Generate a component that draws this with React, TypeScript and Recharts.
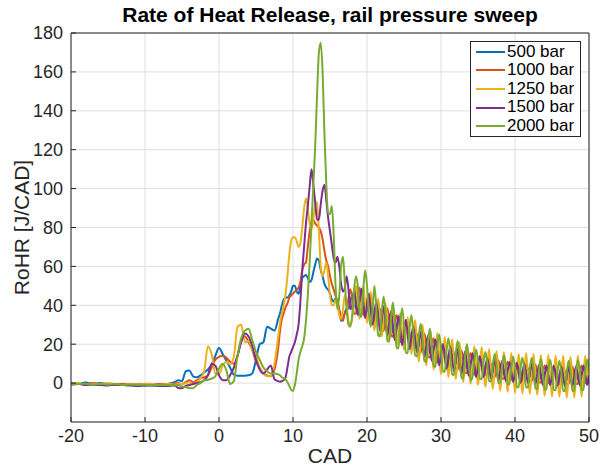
import React from "react";
import { LineChart, Line, XAxis, YAxis, CartesianGrid } from "recharts";

document.body.style.margin = "0";

const FONT = '"Liberation Sans", Arial, Helvetica, sans-serif';
const INK = "#262626";

// CAD sampling grid: 1 deg steps before injection, 0.5 deg around SOI, 0.25 deg from 8.25 on
const CAD = [
  ...Array.from({ length: 15 }, (_, i) => -20 + i),
  ...Array.from({ length: 28 }, (_, i) => -5.5 + i * 0.5),
  ...Array.from({ length: 168 }, (_, i) => 8.25 + i * 0.25),
];

const X_TICKS = [-20, -10, 0, 10, 20, 30, 40, 50];
const Y_TICKS = [0, 20, 40, 60, 80, 100, 120, 140, 160, 180];

// RoHR [J/CAD]
const RoHR_500 = [
  0, -0.5, 0.3, -0.3, 0, -0.5, -0.8, -0.6, -1, -0.7, -0.5, -1.2, -0.8, -0.5, 0.5,
  1.5, 1, 6, 6.5, 3.5, 3, 4, 5.5, 7, 9.5, 14, 18, 15, 11.5, 8, 4.3, 3.8, 3.8, 3.8, 4, 5, 12, 20, 21, 29, 28, 27, 33,
  36, 40, 43, 44, 44, 45, 47, 50, 50, 47, 46, 50, 54, 55, 55.6, 54, 52, 53, 57, 61,
  64, 63, 58, 55, 51, 49, 48, 46, 43, 42, 43.5, 42, 37, 32, 33, 36,
  38.5, 38.3, 42.5, 45, 42.5, 38.3, 38.5, 43.2, 45.5, 42.2, 37.3, 36.8, 40.2, 42, 38.2,
  32.8, 32, 35.7, 37.8, 34.2, 29.3, 28.8, 32.7, 35, 31.5, 26.3, 25.5, 29.2, 31.5, 28.2,
  23.3, 22.8, 26.7, 29, 25.7, 20.8, 20.9, 23.4, 24.8, 21.9, 18.1, 17.6, 20.4, 22, 19.4,
  15.6, 15.1, 17.9, 19.4, 16.7, 12.7, 12.1, 15, 16.8, 14.3, 10.6, 10.4, 13.4, 15.3, 12.9,
  9.2, 8.9, 11.8, 13.5, 11.2, 7.6, 7.4, 10.4, 12.4, 10.2, 6.7, 7, 9.6, 11, 9,
  6, 5.8, 8.3, 9.8, 7.8, 4.9, 4.8, 7.4, 9, 7.2, 4.3, 4.1, 6.8, 8.4, 6.6,
  3.6, 3.5, 6.2, 7.8, 5.9, 3, 3, 5.8, 7.5, 5.8, 2.9, 2.8, 5.4, 7, 5.2,
  2.3, 2.1, 4.8, 6.5, 4.8, 2, 2, 4.7, 6.3, 4.4, 1.5, 1.5, 4.3, 6, 4.3,
  1.5, 1.5, 4.3, 6, 4.4, 1.8, 1.9, 4.8, 6.5, 4.8, 2, 2,
];

const RoHR_1000 = [
  -0.3, -0.5, -0.5, 0, -0.5, -0.3, -0.8, -0.5, -0.5, -0.8, -0.5, -0.8, -0.5, -0.5, -0.3,
  0, -0.5, 0.5, 1.5, 0.5, 1.5, 2.5, 3, 4, 8, 12, 13.5, 14, 13, 11, 10, 14, 22, 24, 21, 17, 11, 8, 5, 4, 3.5, 7, 18,
  27, 33, 36, 39, 41, 44, 45, 46, 47, 48, 49, 52, 58, 61, 62, 70, 78, 83, 84, 82,
  81, 80, 78, 74, 68, 63, 60, 55, 51, 48, 45, 42, 38, 34, 32, 36,
  36, 43.7,
  48.3, 43.2, 35.6, 35.8, 44, 49, 43.7, 35.3, 34.8, 42.2, 46, 40.2, 31.3, 30.3, 37.5,
  41.5, 36, 27.3, 26.8, 34.2, 38.5, 33.2, 24.6, 23.8, 31, 35, 29.7, 21.3, 20.8, 28.2,
  32.5, 27.2, 18.8, 18.3, 25.2, 28.5, 23.7, 16.1, 15.6, 21.9, 25.5, 20.9, 13.6, 13.1, 19.4,
  23, 18.3, 10.9, 10.2, 16.4, 20.1, 15.7, 8.5, 8.1, 14.7, 18.5, 14.2, 7.1, 6.7, 13.2,
  16.9, 12.4, 5.4, 5.1, 11.7, 15.5, 11.3, 4.4, 4.2, 10.6, 13.8, 10.1, 4.3, 4, 9.4,
  12.5, 8.9, 3, 2.9, 8.4, 11.6, 8.1, 2.4, 2.3, 7.7, 11, 7.5, 1.8, 1.6, 7.1,
  10.4, 6.9, 1.1, 1, 6.6, 10, 6.6, 1, 0.9, 6.4, 9.6, 6.1, 0.4, 0.3, 5.7,
  9, 5.6, 0, 0, 5.6, 8.9, 5.4, -0.4, -0.5, 5.1, 8.5, 5.1, -0.5, -0.5, 5.1,
  8.5, 5.1, -0.4, -0.3, 5.5, 9, 5.6, 0, 0, 0,
];

const RoHR_1250 = [
  -0.5, 0, -0.8, -0.3, -0.5, 0, -0.5, -1, -0.5, -0.8, -0.3, -0.8, -1, -0.5, -0.8,
  -0.5, -0.5, 0, 0.5, -0.5, 0.5, 2.5, 6, 19, 15, 5, 4.5, 9, 11, 9.5, 13.5, 29, 30, 21, 21.5, 17, 13.5, 8, 5, 3.5, 3.5, 10, 24,
  31, 36, 40, 46, 55, 66, 73, 75, 75, 73, 70, 72, 80, 90, 95, 90, 82, 79, 84, 92,
  93, 78, 60, 55, 58, 62, 55, 45, 40, 40, 43, 40, 35, 33, 38, 45,
  40, 32, 30, 33, 42, 50, 42, 33, 41.5, 50, 40.5, 31, 39, 47, 37, 27,
  35, 43.5, 33.8, 24, 32.5, 41, 31.5, 22, 30, 38.5, 28.8, 19, 27.5, 36, 26.5, 17,
  25.5, 34, 24.5, 15, 23, 32.5, 21.8, 11, 20.5, 30, 19.5, 9, 18.5, 28, 17.5, 7,
  16.4, 25.7, 15, 4.5, 14, 23.7, 13.4, 3, 12.8, 22.5, 12.2, 2, 11.6, 21, 10.9, 0.5,
  10.2, 20, 9.8, -0.5, 9.4, 19, 9.1, -1, 8.8, 18.5, 8.2, -2, 7.8, 17.5, 7.2, -3,
  6.9, 16.5, 6.6, -4, 6.4, 16, 6.1, -4.5, 5.9, 15.5, 5.6, -5, 5.4, 15, 5.1, -5.5,
  5, 15.5, 5, -5.5, 4.9, 15, 4.6, -6, 4.4, 14.5, 4.1, -6.5, 4, 14.5, 4, -7,
  3.9, 14, 3.6, -7, 3.5, 14, 3.5, -7.5, 3.5, 13.5, 3.5, -7.5, 3.6, 14, 3.9, -7,
  4, 14, 3, 13,
];

const RoHR_1500 = [
  -0.8, -0.5, -1, -0.8, -1, -1.2, -0.8, -1, -1.2, -1.5, -1.3, -1.2, -1.5, -1.5, -1.2,
  -2.5, -2.7, -1.5, -1, -0.5, 0, 0.5, 1.5, 4, 10, 9, 4, 1.5, 1.5, 4, 8, 14, 21, 25.5, 24, 19, 12, 7, 5, 7, 9, 2, 1,
  0.7, 1, 1.5, 3, 8, 13.5, 16, 18.5, 21, 25, 30, 42, 58, 70, 82, 91, 101, 110, 102, 93,
  84, 84, 92, 99, 102, 94, 85, 78, 71, 64, 62, 65, 60, 51, 47, 49,
  55, 48, 38, 40, 48, 41.5, 35, 42, 48.5, 41, 33.5, 40, 46, 38, 30, 36,
  42, 34.5, 27, 33, 39.5, 32, 24.5, 31, 37, 29.5, 22, 28, 34.5, 27, 19.5, 26,
  32.5, 25, 17.5, 24, 29, 22.5, 15.8, 21, 26.5, 20, 13.5, 19, 24.5, 18, 11.5, 17,
  22.4, 15.8, 9.1, 14.5, 20, 13.8, 7.4, 13, 18.8, 12.5, 6.2, 12, 17.6, 11.2, 4.9, 10.5,
  16.2, 10, 3.8, 9.5, 15.4, 9.2, 3.1, 9, 13.8, 8.5, 3.2, 8, 12.8, 7.5, 2.2, 7,
  11.9, 6.8, 1.6, 6.5, 11.4, 6.2, 1.1, 6, 10.9, 5.8, 0.6, 5.5, 10.4, 5.2, 0.1, 5,
  10, 5, 0, 5, 9.9, 4.8, -0.4, 4.5, 9.4, 4.2, -0.9, 4, 9, 4, -1, 4,
  8.9, 3.8, -1.4, 3.5, 8.5, 3.5, -1.5, 3.5, 8.5, 3.5, -1.5, 3.5, 8.6, 3.8, -1.1, 4,
  9, 4, -1, 4,
];

const RoHR_2000 = [
  -0.5, -0.5, -0.3, -0.8, -0.5, -0.8, -0.5, -1, -0.7, -1, -0.8, -1.2, -1, -1, -1.2,
  -1, -1.7, -2, -2.5, -2.6, -1, 0, 1.5, 1.7, 2.3, 3.5, 7.5, 10, 6.5, -0.5, 1, 14, 23, 27, 28, 22, 16, 12, 8, 6, 5, 5, 4.5,
  4, 3, 2.5, 2, 0.5, -1.5, -3.5, -4, -1, 5, 12, 16, 19, 23, 32, 45, 62, 82, 102, 122,
  148, 170, 175, 160, 128, 102, 87, 87, 91, 76, 50, 38, 45, 60, 65, 52,
  38, 30, 29, 35, 48, 55, 50, 36, 34, 48, 58, 50, 36, 29, 38, 50,
  39, 24.8, 24, 36.7, 44.5, 35.7, 21.8, 21.3, 34, 41.5, 32.5, 18.3, 17.8, 30.7, 38.5,
  29.7, 15.8, 15.3, 28.2, 35, 26.4, 14.4, 13.7, 24.1, 30.5, 23.1, 11.4, 10.9, 21.6, 28,
  20.6, 8.9, 8.3, 18.9, 25.1, 17.6, 6, 5.7, 16.5, 23, 15.9, 4.4, 4.2, 15.1, 21.6,
  14.4, 2.8, 2.4, 13.4, 20, 12.9, 1.4, 2.9, 11.8, 17.1, 11.5, 2.3, 2, 10.8, 16,
  10.3, 1, 0.8, 9.5, 14.9, 9.3, 0.1, 0, 8.9, 14.3, 8.6, -0.5, -0.6, 8.3, 13.6,
  8, -2, -2.2, 7.6, 13, 7.5, -2.3, -2.3, 7.5, 12.9, 7.3, -2.5, -3, 6.9, 12.3,
  6.6, -3.3, -3.3, 6.5, 12, 6.5, -3.5, -3.7, 6.1, 11.5, 6, -4, -4, 6, 11.5,
  6, -4, -4, 6.1, 11.8, 6.4, -3.5, -3.5, 6.5, 12, 6.5,
];

const SERIES = [
  { key: "p500", label: "500 bar", color: "#0072BD", values: RoHR_500 },
  { key: "p1000", label: "1000 bar", color: "#D95319", values: RoHR_1000 },
  { key: "p1250", label: "1250 bar", color: "#EDB120", values: RoHR_1250 },
  { key: "p1500", label: "1500 bar", color: "#7E2F8E", values: RoHR_1500 },
  { key: "p2000", label: "2000 bar", color: "#77AC30", values: RoHR_2000 },
];

const rows = CAD.map((cad, i) => {
  const row: Record<string, number> = { cad };
  SERIES.forEach((s) => {
    row[s.key] = s.values[i];
  });
  return row;
});

function LegendBox() {
  return (
    <div
      style={{
        position: "absolute",
        left: 470,
        top: 41,
        width: 111,
        height: 96,
        boxSizing: "border-box",
        border: `1px solid ${INK}`,
        background: "#fff",
        fontFamily: FONT,
        fontSize: 17,
        color: "#000",
        paddingTop: 0.5,
      }}
    >
      {SERIES.map((s) => (
        <div key={s.key} style={{ height: 18.6, lineHeight: "18.6px", whiteSpace: "nowrap", display: "flex", alignItems: "center" }}>
          <span style={{ display: "inline-block", width: 29, height: 2, marginLeft: 5, marginRight: 2, background: s.color }} />
          <span>{s.label}</span>
        </div>
      ))}
    </div>
  );
}

export default function App() {
  return (
    <div style={{ position: "relative", width: 599, height: 468, background: "#fff", fontFamily: FONT }}>
      <div
        style={{
          position: "absolute",
          left: 71,
          top: 0,
          width: 518,
          lineHeight: "30px",
          textAlign: "center",
          fontWeight: "bold",
          fontSize: 21,
          color: "#000",
        }}
      >
        Rate of Heat Release, rail pressure sweep
      </div>
      <LineChart width={599} height={468} data={rows} margin={{ top: 32, right: 9, bottom: 0, left: 0 }}>
        <CartesianGrid stroke="#dedede" />
        <XAxis
          dataKey="cad"
          type="number"
          domain={[-20, 50]}
          ticks={X_TICKS}
          allowDataOverflow
          height={46}
          stroke={INK}
          tickSize={-5}
          tickMargin={12}
          tick={{ fill: INK, fontSize: 18, fontFamily: FONT }}
          label={{ value: "CAD", position: "insideBottom", offset: 5, fill: INK, fontSize: 21, fontFamily: FONT }}
        />
        <XAxis
          xAxisId="top"
          orientation="top"
          type="number"
          domain={[-20, 50]}
          ticks={X_TICKS}
          allowDataOverflow
          height={1}
          stroke={INK}
          tickSize={-5}
          tick={false}
        />
        <YAxis
          type="number"
          domain={[-20, 180]}
          ticks={Y_TICKS}
          allowDataOverflow
          width={71}
          stroke={INK}
          tickSize={-5}
          tickMargin={13}
          tick={{ fill: INK, fontSize: 18, fontFamily: FONT }}
          label={{
            value: "RoHR [J/CAD]",
            angle: -90,
            position: "insideLeft",
            offset: 22,
            fill: INK,
            fontSize: 21,
            fontFamily: FONT,
            style: { textAnchor: "middle" },
          }}
        />
        <YAxis
          yAxisId="right"
          orientation="right"
          type="number"
          domain={[-20, 180]}
          ticks={Y_TICKS}
          allowDataOverflow
          width={1}
          stroke={INK}
          tickSize={-5}
          tick={false}
        />
        {SERIES.map((s) => (
          <Line
            key={s.key}
            dataKey={s.key}
            name={s.label}
            type="monotone"
            stroke={s.color}
            strokeWidth={2}
            dot={false}
            activeDot={false}
            isAnimationActive={false}
          />
        ))}
      </LineChart>
      <LegendBox />
    </div>
  );
}
